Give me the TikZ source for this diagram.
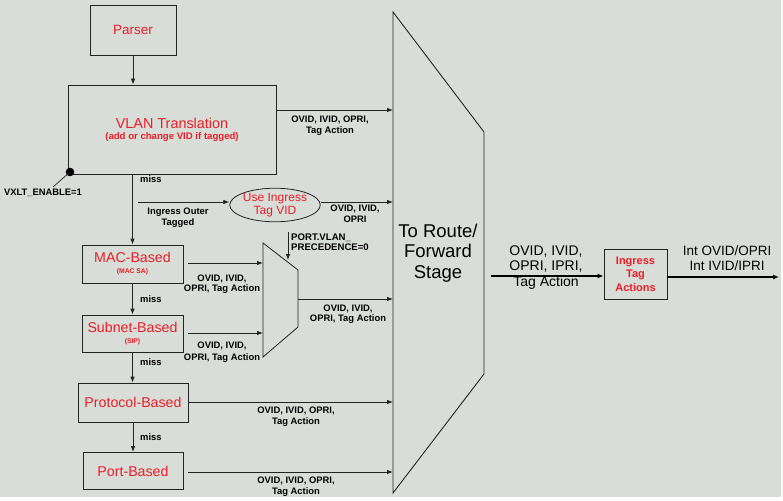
\documentclass[tikz,border=0pt]{standalone}
\usepackage{fontspec}
\setmainfont{Liberation Sans}
\usetikzlibrary{arrows.meta,shapes.geometric}
\definecolor{bg}{RGB}{217,221,216}
\definecolor{tred}{RGB}{232,30,40}
\definecolor{ln}{RGB}{35,35,35}
\begin{document}
\begin{tikzpicture}[x=1pt,y=-1pt,
  box/.style={draw=ln, line width=0.8pt, inner sep=0pt, text=tred, align=center},
  lbl/.style={font=\bfseries\fontsize{9.4}{11}\selectfont, align=center, inner sep=0pt, text=black},
  misslbl/.style={font=\bfseries\fontsize{9.4}{11}\selectfont, inner sep=0pt},
  arr/.style={draw=ln, line width=0.8pt, -{Latex[length=6pt,width=4.5pt]}},
  bigarr/.style={draw=black, line width=1.6pt, -{Latex[length=6pt,width=5pt]}}]
\useasboundingbox (0,0) rectangle (783,500);
\fill[white] (0,0) rectangle (783,500);
\fill[bg] (0,0) rectangle (781,497);

% boxes
\node[box, minimum width=86pt, minimum height=50pt, font=\fontsize{13.5}{15}\selectfont] (parser) at (133,30) {Parser};
\node[box, minimum width=208pt, minimum height=89pt] (vlan) at (172,129.5)
  {{\fontsize{14.4}{16}\selectfont VLAN Translation}\\[-1pt]{\bfseries\fontsize{9.6}{10}\selectfont (add or change VID if tagged)}};
\node[draw=ln, line width=0.8pt, ellipse, minimum width=86pt, minimum height=33pt, inner sep=0pt,
  text=tred, align=center, font=\fontsize{12}{13}\selectfont] (use) at (275,205) {Use Ingress\\Tag VID};
\node[box, minimum width=101pt, minimum height=38pt] (mac) at (132.5,264)
  {{\fontsize{14.2}{15}\selectfont MAC-Based}\\[-1pt]{\bfseries\fontsize{6.8}{7}\selectfont (MAC SA)}};
\node[box, minimum width=101pt, minimum height=37pt] (subnet) at (132.5,333.5)
  {{\fontsize{14.2}{15}\selectfont Subnet-Based}\\[-1pt]{\bfseries\fontsize{6.8}{7}\selectfont (SIP)}};
\node[box, minimum width=110pt, minimum height=39pt, font=\fontsize{14.2}{15}\selectfont] (proto) at (133,402.5) {Protocol-Based};
\node[box, minimum width=100pt, minimum height=37pt, font=\fontsize{14.2}{15}\selectfont] (port) at (133,471) {Port-Based};
\node[box, minimum width=63pt, minimum height=50pt, font=\bfseries\fontsize{11}{13.5}\selectfont] (ita) at (635.5,274) {Ingress\\Tag\\Actions};

% big trapezoid (To Route / Forward Stage)
\coordinate (T1) at (393,12);
\coordinate (T2) at (484,132);
\coordinate (T3) at (484,374);
\coordinate (T4) at (393,493);
\draw[ln, line width=0.9pt] (T1) -- (T2) -- (T3) -- (T4) -- cycle;
\node[align=center, inner sep=0pt, font=\fontsize{18.5}{20.5}\selectfont] (stage) at (438,253) {To Route/\\Forward\\Stage};

% mux
\coordinate (M1) at (263,243);
\coordinate (M2) at (298,270);
\coordinate (M3) at (298,327);
\coordinate (M4) at (263,357);
\draw[ln, line width=0.8pt] (M1) -- (M2) -- (M3) -- (M4) -- cycle;

% vertical flow
\draw[arr] (parser.south) -- (parser.south |- vlan.north);
\draw[arr] (vlan.south -| mac.north) -- (mac.north);
\draw[arr] (mac.south) -- (mac.south |- subnet.north);
\draw[arr] (subnet.south) -- (subnet.south |- proto.north);
\draw[arr] (proto.south) -- (proto.south |- port.north);
\node[misslbl, anchor=west] (miss0) at (140,179) {miss};
\node[misslbl, anchor=west] (miss1) at (140,299) {miss};
\node[misslbl, anchor=west] (miss2) at (140,362) {miss};
\node[misslbl, anchor=west] (miss3) at (140,437) {miss};

% VXLT enable dot
\coordinate (dot) at (70,172);
\coordinate (dotend) at (53,187);
\fill[black] (dot) circle (4.3pt);
\draw[ln, line width=0.7pt] (dot) -- (dotend);
\node[lbl] (vxlt) at (43,193) {VXLT\_ENABLE=1};

% VLAN translation output
\coordinate (vo) at (276,110);
\draw[arr] (vo) -- (vo -| T1);
\node[lbl] (l1) at (330,126) {OVID, IVID, OPRI,\\Tag Action};

% ingress outer tagged branch
\coordinate (br) at (138,202);
\draw[arr] (br) -- (br -| use.west);
\node[lbl] (l2) at (178,218) {Ingress Outer\\Tagged};
\coordinate (uo) at (use.east |- br);
\draw[arr] (uo) -- (uo -| T1);
\node[lbl] (l3) at (355,214) {OVID, IVID,\\OPRI};

% into mux
\coordinate (mo) at (188,263);
\draw[arr] (mo) -- (mo -| M1);
\node[lbl, font=\bfseries\fontsize{9.4}{10.5}\selectfont] (l4) at (222,284) {OVID, IVID,\\OPRI, Tag Action};
\coordinate (so) at (188,333);
\draw[arr] (so) -- (so -| M1);
\node[lbl, font=\bfseries\fontsize{9.4}{11.5}\selectfont] (l5) at (222,352) {OVID, IVID,\\OPRI, Tag Action};

% mux select
\coordinate (sel) at (288,232);
\coordinate (selend) at (288,260);
\draw[arr] (sel) -- (selend);
\node[lbl, anchor=west, align=left, font=\bfseries\fontsize{9.6}{10}\selectfont] (prec) at (291,242) {PORT.VLAN\_\\PRECEDENCE=0};

% mux output
\coordinate (xo) at (298,299);
\draw[arr] (xo) -- (xo -| T1);
\node[lbl, font=\bfseries\fontsize{9.4}{10.5}\selectfont] (l6) at (348,314) {OVID, IVID,\\OPRI, Tag Action};

% protocol / port outputs
\coordinate (po) at (188,402);
\draw[arr] (po) -- (po -| T1);
\node[lbl] (l7) at (296,417) {OVID, IVID, OPRI,\\Tag Action};
\coordinate (pto) at (188,472);
\draw[arr] (pto) -- (pto -| T1);
\node[lbl] (l8) at (296,487) {OVID, IVID, OPRI,\\Tag Action};

% stage output
\coordinate (st) at (491,276);
\draw[bigarr] (st) -- (st -| ita.west);
\node[align=center, inner sep=0pt, font=\fontsize{14}{15.5}\selectfont] (l9) at (546,267.5) {OVID, IVID,\\OPRI, IPRI,\\Tag Action};
\coordinate (io) at (ita.east |- 0,277);
\coordinate (iend) at (779,277);
\draw[bigarr] (io) -- (iend);
\node[align=center, inner sep=0pt, font=\fontsize{13.5}{15}\selectfont] (l10) at (727,258.5) {Int OVID/OPRI\\Int IVID/IPRI};
\end{tikzpicture}
\end{document}
